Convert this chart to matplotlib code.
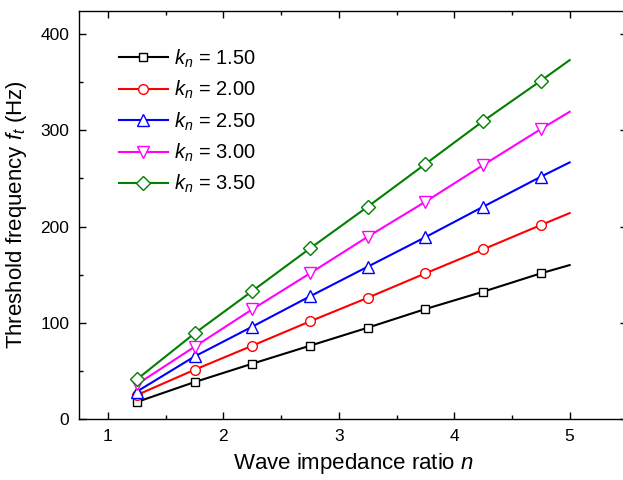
import matplotlib
matplotlib.use("Agg")
import matplotlib.pyplot as plt
from matplotlib.ticker import MultipleLocator

plt.rcParams['font.family'] = ['Liberation Sans', 'DejaVu Sans']
plt.rcParams['mathtext.fontset'] = 'custom'
plt.rcParams['mathtext.rm'] = 'Liberation Sans'
plt.rcParams['mathtext.it'] = 'Liberation Sans:italic'

n_marks = [1.25, 1.75, 2.25, 2.75, 3.25, 3.75, 4.25, 4.75, 5.0]
labels = ["1.50", "2.00", "2.50", "3.00", "3.50"]
k150 = [17.7, 38.4, 57.5, 76.2, 94.9, 114.3, 132.3, 151.4, 160.0]
k200 = [24.9, 51.2, 76.2, 101.5, 126.0, 151.4, 176.3, 201.6, 214.0]
k250 = [28.5, 65.0, 96.0, 127.5, 158.3, 189.0, 220.6, 251.8, 266.7]
k300 = [36.0, 75.1, 114.0, 151.4, 189.4, 225.8, 263.9, 301.3, 319.3]
k350 = [41.2, 89.0, 133.0, 177.3, 220.6, 265.0, 309.6, 351.5, 373.0]
series = [k150, k200, k250, k300, k350]
colors = ['#000000', '#ff0000', '#0000ff', '#ff00ff', '#008000']
markers = ['s', 'o', '^', 'v', 'D']
msizes = [6, 7, 8, 8, 7]

fig = plt.figure(figsize=(6.23, 4.8), dpi=100)
ax = fig.add_axes([0.127, 0.127, 0.88, 0.85])

for ys, c, m, ms, lab in zip(series, colors, markers, msizes, labels):
    ax.plot(n_marks, ys, color=c, lw=1.5, marker=m, markersize=ms,
            markerfacecolor='white', markeredgecolor=c, markeredgewidth=1.0,
            markevery=list(range(len(n_marks) - 1)),
            label=r'$k_n$ = ' + lab)

ax.set_xlim(0.75, 5.5)
ax.set_ylim(0, 424)
ax.xaxis.set_major_locator(MultipleLocator(1))
ax.xaxis.set_minor_locator(MultipleLocator(0.5))
ax.yaxis.set_major_locator(MultipleLocator(100))
ax.yaxis.set_minor_locator(MultipleLocator(50))
ax.tick_params(which='both', direction='in', top=True, right=True, labelsize=12.5, pad=7)
ax.tick_params(which='major', length=5, width=1)
ax.tick_params(which='minor', length=3, width=1)
for s in ax.spines.values():
    s.set_linewidth(1.0)

ax.set_xlabel(r'Wave impedance ratio $n$', fontsize=16, labelpad=5)
ax.set_ylabel(r'Threshold frequency $f_t$ (Hz)', fontsize=16, labelpad=8)

ax.legend(loc='upper left', frameon=False, fontsize=14.5, handlelength=2.4,
          labelspacing=0.45, handletextpad=0.3, bbox_to_anchor=(0.04, 0.955))

fig.savefig('out.png', dpi=100)
